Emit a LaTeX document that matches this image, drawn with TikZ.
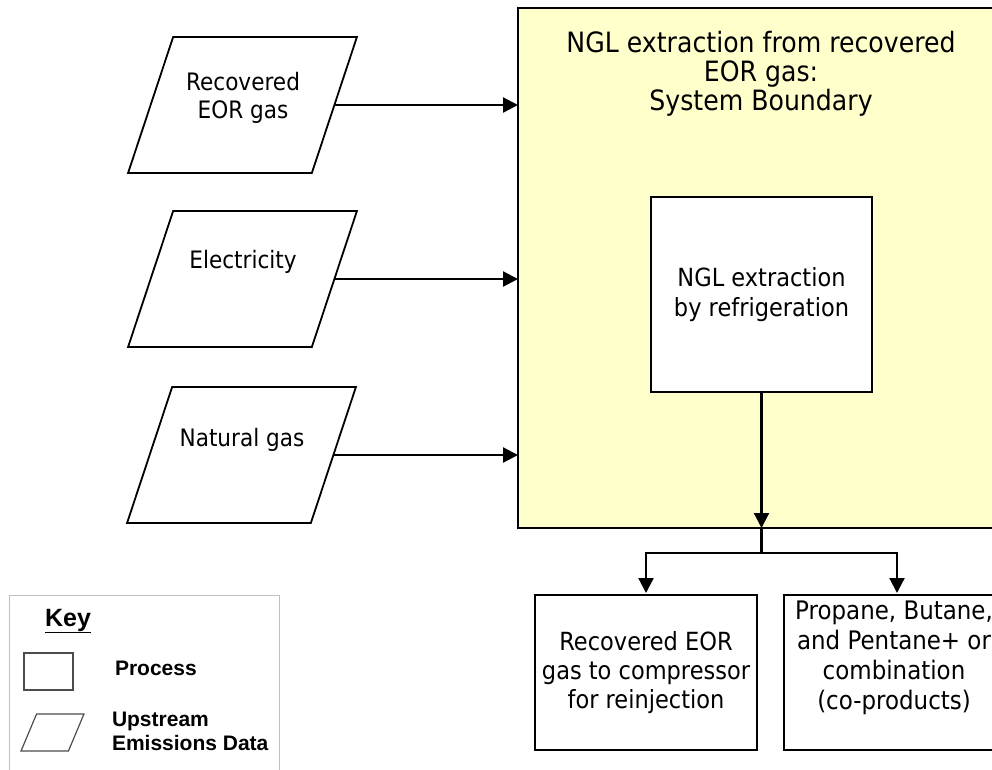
\documentclass[tikz,border=0pt]{standalone}
\usepackage{fontspec}
\setmainfont{DejaVu Sans}[FakeStretch=0.9]
\newfontfamily\keyfont{Liberation Sans}
\usetikzlibrary{shapes.geometric,arrows.meta}
\definecolor{boundfill}{HTML}{FFFFCC}
\definecolor{keygray}{HTML}{C0C0C0}

\begin{document}
\begin{tikzpicture}[x=1pt,y=-1pt,inner sep=0pt,outer sep=0pt,
    every node/.style={font=\fontsize{24}{28}\selectfont, align=center},
    data/.style={draw, line width=1.8pt, trapezium, trapezium left angle=72,
        trapezium right angle=108, trapezium stretches=true, inner sep=4pt,
        minimum width=229pt, minimum height=136pt},
    proc/.style={draw, line width=2.2pt, fill=white},
    flow/.style={line width=2.2pt, -{Triangle[length=15pt,width=15pt]}},
    keytext/.style={font=\keyfont\bfseries\fontsize{21}{24}\selectfont,
        align=left, anchor=west}]
    \useasboundingbox (0,0) rectangle (992,769);
    \clip (0,0) rectangle (992,769);

    % upstream inputs
    \node[data] (eor_gas) at (242.5,105) {};
    \node (eor_gas_txt) at (243,97.5) {Recovered\\EOR gas};
    \node[data] (elec) at (242.5,279) {};
    \node (elec_txt) at (243,262) {Electricity};
    \node[data] (nat_gas) at (241.5,455) {};
    \node (nat_gas_txt) at (242,440) {Natural gas};

    % system boundary
    \node[draw, line width=2.2pt, fill=boundfill, minimum width=486pt,
        minimum height=520pt, anchor=north west] (bound) at (518,8) {};
    \node[font=\fontsize{28}{29}\selectfont] (bound_cap) at (761,74)
    {NGL extraction from recovered\\EOR gas:\\System Boundary};
    \node[proc, minimum width=221pt, minimum height=195pt,
        font=\fontsize{25}{30}\selectfont] (ngl) at (761.5,294.5)
    {NGL extraction\\by refrigeration};

    % inputs into boundary
    \draw[flow] (eor_gas.right side) -- (eor_gas.right side -| bound.west);
    \draw[flow] (elec.right side) -- (elec.right side -| bound.west);
    \draw[flow] (nat_gas.right side) -- (nat_gas.right side -| bound.west);

    % outputs
    \node[proc, minimum width=222pt, minimum height=155pt,
        font=\fontsize{25}{29}\selectfont] (recomp) at (646,672.5)
    {Recovered EOR\\gas to compressor\\for reinjection};
    \node[proc, minimum width=226pt, minimum height=155pt] (coprod) at (897,672.5) {};
    \node[font=\fontsize{25.5}{30}\selectfont] (coprod_txt) at (894,658)
    {Propane, Butane,\\and Pentane+ or\\combination\\(co-products)};

    \coordinate (split) at (761.5,553);
    \draw[flow] (ngl.south) -- (ngl.south |- bound.south);
    \draw[line width=2.2pt] (ngl.south |- bound.south) -- (split);
    \draw[flow, shorten >=2pt] (split) -| (recomp.north);
    \draw[flow, shorten >=2pt] (split) -| (coprod.north);

    % key
    \node[draw=keygray, line width=1pt, minimum width=270pt, minimum height=190pt,
        anchor=north west] (key) at (9,595) {};
    \node[font=\keyfont\bfseries\fontsize{25}{26}\selectfont] (key_cap) at (68,621)
    {\underline{Key}};
    \node[draw=black!70, line width=1.2pt, minimum width=49pt, minimum height=37pt]
        (key_proc) at (48.5,671.5) {};
    \node[keytext] (key_proc_txt) at (115,668) {Process};
    \node[draw=black!70, line width=1.2pt, trapezium, trapezium left angle=64,
        trapezium right angle=116, trapezium stretches=true, inner sep=3pt,
        minimum width=63pt, minimum height=37pt] (key_data) at (52.5,732.5) {};
    \node[keytext] (key_data_txt) at (112,731) {Upstream\\Emissions Data};

\end{tikzpicture}
\end{document}
